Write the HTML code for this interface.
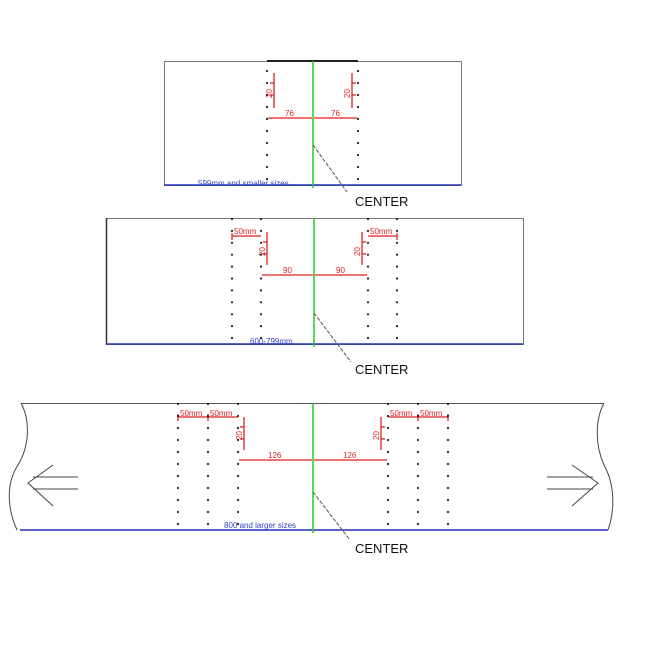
<!DOCTYPE html>
<html><head><style>html,body{margin:0;padding:0;background:#fff}svg{display:block}text{font-family:"Liberation Sans",sans-serif}</style></head>
<body>
<svg id="s" width="650" height="650" viewBox="0 0 650 650" xmlns="http://www.w3.org/2000/svg">
<!-- Panel 1 -->
<rect x="164.5" y="61.5" width="297" height="124" fill="none" stroke="#777" stroke-width="1"/>
<line x1="267" y1="61" x2="358" y2="61" stroke="#222" stroke-width="2"/>
<line x1="164" y1="185" x2="461" y2="185" stroke="#2233bb" stroke-width="1.5"/>
<text x="198" y="186" font-size="8" fill="#3344cc">599mm and smaller sizes</text>
<line x1="313" y1="61" x2="313" y2="188" stroke="#22cc22" stroke-width="1.5"/>
<line x1="313" y1="145" x2="347" y2="192" stroke="#555" stroke-width="1" stroke-dasharray="4,1.5"/>
<text x="355" y="206" font-size="13" fill="#111">CENTER</text>
<g stroke="#dd2222" stroke-width="1.3" fill="none">
<line x1="274" y1="73" x2="274" y2="108"/><line x1="270" y1="83" x2="274" y2="83"/><line x1="270" y1="95" x2="274" y2="95"/>
<line x1="352" y1="73" x2="352" y2="108"/><line x1="352" y1="83" x2="356" y2="83"/><line x1="352" y1="95" x2="356" y2="95"/>
<line x1="268" y1="118" x2="312" y2="118"/><line x1="314" y1="118" x2="357" y2="118"/>
</g>
<g fill="#dd2222" font-size="8">
<text x="285" y="116">76</text><text x="331" y="116">76</text>
<text transform="translate(272,98) rotate(-90)">20</text>
<text transform="translate(350,98) rotate(-90)">20</text>
</g>
<!-- Panel 2 -->
<rect x="106.5" y="218.5" width="417" height="126" fill="none" stroke="#777" stroke-width="1"/>
<line x1="106.5" y1="218" x2="106.5" y2="345" stroke="#333" stroke-width="1.5"/>
<line x1="106" y1="344" x2="523" y2="344" stroke="#2233bb" stroke-width="1.5"/>
<text x="250" y="344" font-size="8" fill="#3344cc">600-799mm</text>
<line x1="314" y1="218" x2="314" y2="347" stroke="#22cc22" stroke-width="1.5"/>
<line x1="314" y1="313" x2="351" y2="362" stroke="#555" stroke-width="1" stroke-dasharray="4,1.5"/>
<text x="355" y="374" font-size="13" fill="#111">CENTER</text>
<g stroke="#dd2222" stroke-width="1.3" fill="none">
<line x1="232" y1="236" x2="261" y2="236"/><line x1="232" y1="233" x2="232" y2="240"/>
<line x1="368" y1="236" x2="397" y2="236"/><line x1="397" y1="233" x2="397" y2="240"/>
<line x1="267" y1="232" x2="267" y2="265"/><line x1="263" y1="242" x2="267" y2="242"/><line x1="263" y1="254" x2="267" y2="254"/>
<line x1="362" y1="232" x2="362" y2="265"/><line x1="362" y1="242" x2="366" y2="242"/><line x1="362" y1="254" x2="366" y2="254"/>
<line x1="262" y1="275" x2="313" y2="275"/><line x1="315" y1="275" x2="367" y2="275"/>
</g>
<g fill="#dd2222" font-size="8">
<text x="234" y="234">50mm</text><text x="370" y="234">50mm</text>
<text x="283" y="273">90</text><text x="336" y="273">90</text>
<text transform="translate(265,256) rotate(-90)">20</text>
<text transform="translate(360,256) rotate(-90)">20</text>
</g>
<!-- Panel 3 -->
<line x1="22" y1="403.5" x2="604" y2="403.5" stroke="#555" stroke-width="1"/>
<path d="M21 403 C30 420, 30 445, 18 465 C5 485, 8 510, 17 530" fill="none" stroke="#444" stroke-width="1"/>
<path d="M604 403 C595 420, 595 445, 604 465 C615 485, 615 510, 608 530" fill="none" stroke="#444" stroke-width="1"/>
<line x1="20" y1="530" x2="608" y2="530" stroke="#2233bb" stroke-width="1.5"/>
<text x="224" y="528" font-size="8" fill="#3344cc">800 and larger sizes</text>
<g stroke="#444" stroke-width="1" fill="none">
<polyline points="53,465 28,483 53,506"/><line x1="33" y1="477" x2="78" y2="477"/><line x1="33" y1="489" x2="78" y2="489"/>
<polyline points="572,465 598,483 572,506"/><line x1="547" y1="477" x2="593" y2="477"/><line x1="547" y1="489" x2="593" y2="489"/>
</g>
<line x1="313" y1="403" x2="313" y2="533" stroke="#22cc22" stroke-width="1.5"/>
<line x1="313" y1="492" x2="350" y2="540" stroke="#555" stroke-width="1" stroke-dasharray="4,1.5"/>
<text x="355" y="553" font-size="13" fill="#111">CENTER</text>
<g stroke="#dd2222" stroke-width="1.3" fill="none">
<line x1="178" y1="417" x2="208" y2="417"/><line x1="178" y1="414" x2="178" y2="421"/>
<line x1="208" y1="417" x2="238" y2="417"/><line x1="208" y1="414" x2="208" y2="421"/>
<line x1="388" y1="417" x2="418" y2="417"/><line x1="418" y1="414" x2="418" y2="421"/>
<line x1="418" y1="417" x2="448" y2="417"/><line x1="448" y1="414" x2="448" y2="421"/>
<line x1="244" y1="417" x2="244" y2="450"/><line x1="240" y1="427" x2="244" y2="427"/><line x1="240" y1="439" x2="244" y2="439"/>
<line x1="381" y1="417" x2="381" y2="450"/><line x1="381" y1="427" x2="385" y2="427"/><line x1="381" y1="439" x2="385" y2="439"/>
<line x1="239" y1="460" x2="312" y2="460"/><line x1="314" y1="460" x2="387" y2="460"/>
</g>
<g fill="#dd2222" font-size="8">
<text x="180" y="416">50mm</text><text x="210" y="416">50mm</text>
<text x="390" y="416">50mm</text><text x="420" y="416">50mm</text>
<text x="268" y="458">126</text><text x="343" y="458">126</text>
<text transform="translate(242,440) rotate(-90)">20</text>
<text transform="translate(379,440) rotate(-90)">20</text>
</g>
<g id="dots" fill="#222"></g>
</svg>
<script>
var g=document.getElementById('dots'),ns='http://www.w3.org/2000/svg';
function col(x,y0,dy,n){for(var i=0;i<n;i++){var c=document.createElementNS(ns,'circle');c.setAttribute('cx',x);c.setAttribute('cy',y0+i*dy);c.setAttribute('r',1.1);g.appendChild(c);}}
col(267,71,12,10);col(358,71,12,10);
[232,261,368,397].forEach(function(x){col(x,219,11.9,11);});
[178,208,238,388,418,448].forEach(function(x){col(x,404,12,11);});
</script>
</body></html>
